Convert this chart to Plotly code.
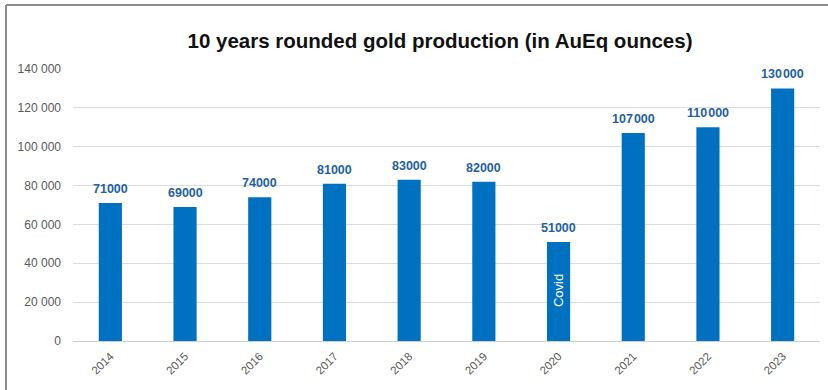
import plotly.graph_objects as go

years = ["2014", "2015", "2016", "2017", "2018", "2019", "2020", "2021", "2022", "2023"]
production = [71000, 69000, 74000, 81000, 83000, 82000, 51000, 107000, 110000, 130000]
y_ticks = [0, 20000, 40000, 60000, 80000, 100000, 120000, 140000]
y_tick_text = ["0", "20 000", "40 000", "60 000", "80 000", "100 000", "120 000", "140 000"]
note_year = "2020"
note_text = "Covid"
note_value = 26000

W, H = 828, 390
L, R, T, B = 73, 8, 69, 49
PW, PH = W - L - R, H - T - B

def px(x):
    return (x - L) / PW

def py(y):
    return (H - B - y) / PH

def fmt(v):
    s = str(v)
    return s[:-3] + "\u200a" + s[-3:] if v >= 100000 else s

fig = go.Figure()
fig.add_trace(go.Bar(x=years, y=production, marker=dict(color="#0070C0", line=dict(width=0)),
                     hoverinfo="x+y"))

for i, v in enumerate(production):
    fig.add_annotation(x=i, y=v, text=fmt(v), showarrow=False, yanchor="bottom", yshift=5,
                       font=dict(family="Liberation Sans, Arial", size=12.5,
                                 color="#1F5FA3", weight="bold"))

fig.add_annotation(x=years.index(note_year), y=note_value, text=note_text, showarrow=False,
                   textangle=-90, font=dict(family="Liberation Sans, Arial", size=13, color="white"))

fig.update_layout(
    width=W, height=H,
    margin=dict(l=L, r=R, t=T, b=B),
    paper_bgcolor="white", plot_bgcolor="white",
    bargap=0.69,
    showlegend=False,
    title=dict(text="<b>10 years rounded gold production (in AuEq ounces)</b>",
               x=440 / W, xanchor="center", y=1 - 41 / H, yanchor="middle",
               font=dict(family="Liberation Sans, Arial", size=20.5, color="#111111")),
    xaxis=dict(type="category", tickangle=-45, automargin=False,
               tickfont=dict(family="Liberation Sans, Arial", size=11.5, color="#595959"),
               ticklabelstandoff=3,
               showline=True, linecolor="#d0d0d0", linewidth=1, ticks="", showgrid=False),
    yaxis=dict(range=[0, 140000], tickvals=y_ticks, ticktext=y_tick_text, automargin=False,
               tickfont=dict(family="Liberation Sans, Arial", size=12, color="#595959"),
               ticklabelstandoff=11,
               showgrid=True, gridcolor="#dcdcdc", gridwidth=1, zeroline=False, ticks="",
               showline=False),
    shapes=[
        dict(type="line", xref="paper", yref="paper", x0=px(6), x1=px(828), y0=py(5), y1=py(5),
             line=dict(color="#8c8c8c", width=2)),
        dict(type="line", xref="paper", yref="paper", x0=px(6), x1=px(6), y0=py(5), y1=py(390),
             line=dict(color="#8c8c8c", width=2)),
    ],
)

fig.write_html("out.html", config={"displayModeBar": False},
               post_script="document.body.style.margin='0';document.body.style.overflow='hidden';")
